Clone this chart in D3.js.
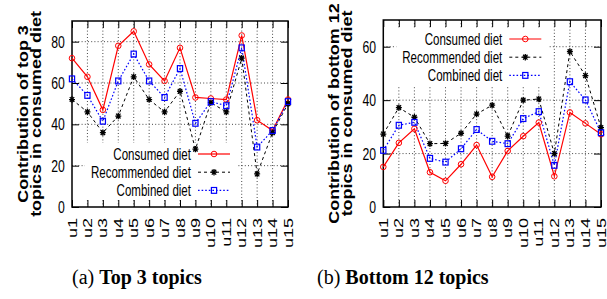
<!DOCTYPE html>
<html>
<head>
<meta charset="utf-8">
<script src="https://cdn.jsdelivr.net/npm/d3@7/dist/d3.min.js"></script>
<style>
  body { margin: 0; background: #fff; }
  svg { display: block; }
</style>
</head>
<body>
<svg id="chart"></svg>
<script>
var users = ["u1", "u2", "u3", "u4", "u5", "u6", "u7", "u8", "u9", "u10", "u11", "u12", "u13", "u14", "u15"];

// (a) top 3 topics
var top3Consumed = [72, 63, 47, 78, 85, 69, 61, 77, 53, 52.5, 52, 83, 42, 37, 52];
var top3Recommended = [52, 46, 36, 44, 63, 52, 46, 56, 28, 50.5, 46, 72, 16, 36, 50];
var top3Combined = [62, 54, 41.5, 61, 74, 61, 53, 67, 40.5, 51, 49, 77, 29, 37, 51];
var top3Ticks = [0, 20, 40, 60, 80];

// (b) bottom 12 topics
var bottomConsumed = [15, 24, 29.3, 13, 9.8, 16, 23.2, 11.3, 21, 26.5, 31.6, 11.5, 35.4, 31.3, 27.2];
var bottomRecommended = [27.3, 37.2, 33.6, 23.7, 23.8, 27.6, 34.8, 38.1, 26.5, 40, 40.4, 20, 58.2, 49.2, 29.7];
var bottomCombined = [21.2, 30.6, 31.7, 18.2, 16.8, 21.8, 29, 24.6, 23.7, 33.1, 35.7, 15.6, 46.9, 40.1, 27.8];
var bottomTicks = [0, 20, 40, 60];

var seriesNames = ["Consumed diet", "Recommended diet", "Combined diet"];

var W = 607, H = 299;
var svg = d3.select("#chart").attr("width", W).attr("height", H);
svg.append("rect").attr("width", W).attr("height", H).attr("fill", "#fff");

// line / marker look for each series
var styles = [
  { color: "#ff0000", dash: null, width: 1.2, marker: "circle" },
  { color: "#000000", dash: "3,3", width: 1, marker: "star" },
  { color: "#0000ff", dash: "1.6,2", width: 1.2, marker: "square" }
];

function drawMarker(g, type, color) {
  if (type == "circle") {
    g.append("circle").attr("r", 2.8).attr("fill", "none")
      .attr("stroke", color).attr("stroke-width", 1);
  } else if (type == "star") {
    g.append("path")
      .attr("d", "M-3,0H3M0,-3.2V3.2M-2.2,-2.4L2.2,2.4M-2.2,2.4L2.2,-2.4")
      .attr("stroke", color).attr("stroke-width", 1.3).attr("fill", "none");
  } else {
    g.append("rect").attr("x", -2.6).attr("y", -2.9)
      .attr("width", 5.2).attr("height", 5.8)
      .attr("fill", "none").attr("stroke", color).attr("stroke-width", 1.2);
  }
}

function drawPanel(p) {
  var x = d3.scalePoint().domain(users).range([p.x0, p.x1]);
  var y = d3.scaleLinear().domain([0, p.yMax]).range([p.y1, p.y0]);
  var g = svg.append("g");
  var tick = 7;

  // grid (dotted)
  var grid = g.append("g");
  grid.selectAll("line.gx")
    .data(users.slice(1, -1))
    .enter().append("line")
    .attr("x1", d => x(d)).attr("x2", d => x(d))
    .attr("y1", p.y0).attr("y2", p.y1);
  grid.selectAll("line.gy")
    .data(p.ticks.slice(1))
    .enter().append("line")
    .attr("x1", p.x0).attr("x2", p.x1)
    .attr("y1", d => y(d)).attr("y2", d => y(d));
  grid.selectAll("line")
    .attr("stroke", "#333").attr("stroke-width", 0.9)
    .attr("stroke-dasharray", "1,2.2");

  // key area hides the grid
  var kx = p.x0 + 13, ky = p.y0 + p.keyTop;
  g.append("rect").attr("x", kx).attr("y", ky)
    .attr("width", 152).attr("height", 57).attr("fill", "#fff");

  // axes with mirrored ticks
  var axL = g.append("g").attr("transform", `translate(${p.x0},0)`)
    .call(d3.axisLeft(y).tickValues(p.ticks).tickSize(-tick).tickPadding(10));
  var axR = g.append("g").attr("transform", `translate(${p.x1},0)`)
    .call(d3.axisRight(y).tickValues(p.ticks).tickSize(-tick).tickFormat(""));
  var axB = g.append("g").attr("transform", `translate(0,${p.y1})`)
    .call(d3.axisBottom(x).tickSize(-tick));
  var axT = g.append("g").attr("transform", `translate(0,${p.y0})`)
    .call(d3.axisTop(x).tickSize(-tick).tickFormat(""));
  [axL, axR, axB, axT].forEach(a => {
    a.select(".domain").remove();
    a.selectAll("line").attr("stroke", "#000").attr("stroke-width", 1);
  });
  axL.selectAll("text")
    .attr("font-family", "'Liberation Sans', Arial, sans-serif")
    .attr("font-size", 17).attr("fill", "#000")
    .attr("transform", "scale(0.72,1)");
  axB.selectAll("text")
    .attr("font-family", "'Liberation Sans', Arial, sans-serif")
    .attr("font-size", 18).attr("fill", "#000")
    .attr("x", 0).attr("y", 0).attr("dy", "0.3em")
    .attr("text-anchor", "end")
    .attr("transform", "translate(0,11) rotate(-90) scale(1,0.74)");

  g.append("rect")
    .attr("x", p.x0).attr("y", p.y0)
    .attr("width", p.x1 - p.x0).attr("height", p.y1 - p.y0)
    .attr("fill", "none").attr("stroke", "#000").attr("stroke-width", 1.5);

  // series
  var line = d3.line().x((d, i) => x(users[i])).y(d => y(d));
  p.series.forEach((vals, si) => {
    var st = styles[si];
    g.append("path").datum(vals)
      .attr("d", line)
      .attr("fill", "none")
      .attr("stroke", st.color)
      .attr("stroke-width", st.width)
      .attr("stroke-dasharray", st.dash);
  });
  p.series.forEach((vals, si) => {
    var st = styles[si];
    vals.forEach((v, i) => {
      var m = g.append("g").attr("transform", `translate(${x(users[i])},${y(v)})`);
      drawMarker(m, st.marker, st.color);
    });
  });

  // key
  seriesNames.forEach((name, si) => {
    var st = styles[si];
    var ry = ky + 11 + si * 18.2;
    var tx = p.x0 + 119;
    g.append("text")
      .attr("transform", `translate(${tx},${ry}) scale(0.68,1)`)
      .attr("dy", "0.35em")
      .attr("text-anchor", "end")
      .attr("font-family", "'Liberation Sans', Arial, sans-serif")
      .attr("font-size", 17)
      .text(name);
    g.append("line")
      .attr("x1", p.x0 + 126).attr("x2", p.x0 + 158)
      .attr("y1", ry).attr("y2", ry)
      .attr("stroke", st.color).attr("stroke-width", st.width)
      .attr("stroke-dasharray", st.dash);
    var m = g.append("g").attr("transform", `translate(${p.x0 + 142},${ry})`);
    drawMarker(m, st.marker, st.color);
  });

  // y title, two lines
  var cy = (p.y0 + p.y1) / 2;
  p.title.forEach((t, li) => {
    g.append("text")
      .attr("transform", `translate(${p.x0 - 44 + li * 13},${cy}) rotate(-90) scale(1,0.82)`)
      .attr("text-anchor", "middle")
      .attr("font-family", "'Liberation Sans', Arial, sans-serif")
      .attr("font-weight", "bold")
      .attr("font-size", 18)
      .text(t);
  });

  // caption
  var cap = svg.append("text")
    .attr("x", p.capX).attr("y", 284)
    .attr("font-family", "'Liberation Serif', 'Times New Roman', serif")
    .attr("font-size", 20);
  cap.append("tspan").text(p.capA + " ");
  cap.append("tspan").attr("font-weight", "bold").text(p.capB);
}

drawPanel({
  x0: 72, x1: 288, y0: 21, y1: 207, yMax: 90,
  ticks: top3Ticks, keyTop: 122,
  series: [top3Consumed, top3Recommended, top3Combined],
  title: ["Contribution of top 3", "topics in consumed diet"],
  capX: 72, capA: "(a)", capB: "Top 3 topics"
});

drawPanel({
  x0: 383.3, x1: 601, y0: 20, y1: 207, yMax: 70,
  ticks: bottomTicks, keyTop: 8,
  series: [bottomConsumed, bottomRecommended, bottomCombined],
  title: ["Contribution of bottom 12", "topics in consumed diet"],
  capX: 317, capA: "(b)", capB: "Bottom 12 topics"
});
</script>
</body>
</html>
